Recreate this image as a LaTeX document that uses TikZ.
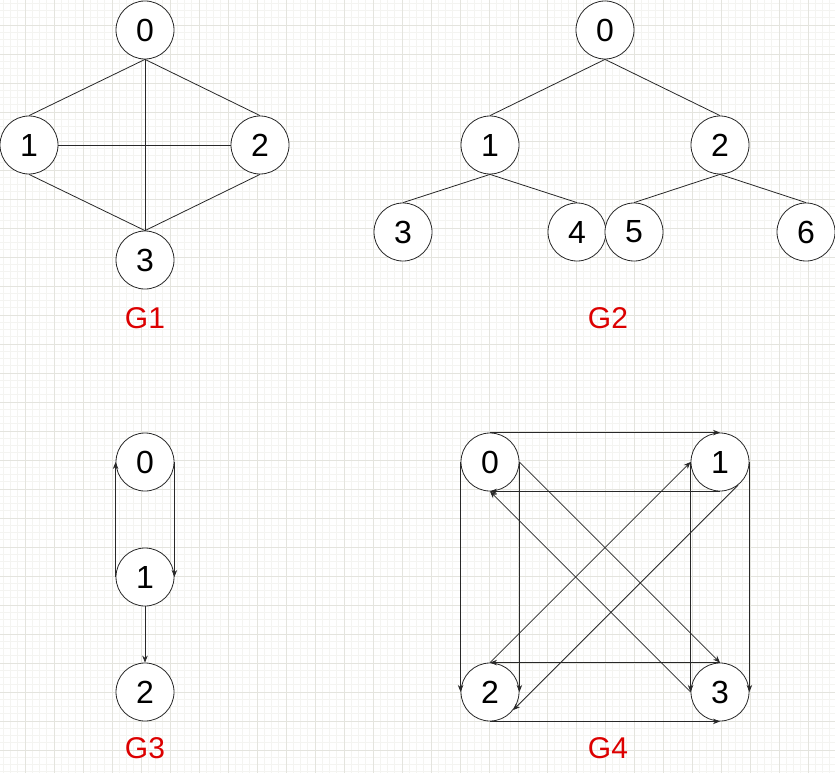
\documentclass[tikz,border=0pt]{standalone}
\usepackage{fontspec}
\setmainfont{Liberation Sans}
\usetikzlibrary{arrows.meta}
\definecolor{gminor}{RGB}{244,244,241}
\definecolor{gmajor}{RGB}{228,228,222}
\definecolor{lbl}{RGB}{220,0,0}
\definecolor{edge}{RGB}{40,40,40}
\begin{document}
\begin{tikzpicture}[x=1pt,y=-1pt,
  vtx/.style={circle,draw=edge,line width=0.8pt,fill=white,minimum size=58pt,inner sep=0pt,font=\fontsize{32}{34}\selectfont},
  glabel/.style={text=lbl,font=\fontsize{30}{32}\selectfont},
  edg/.style={draw=edge,line width=0.8pt},
  arr/.style={edg,-{Stealth[length=7pt,width=5.5pt]}}]
\useasboundingbox (0,0) rectangle (835,773);
\fill[white] (0,0) rectangle (835,773);
% grid
\foreach \i in {0,...,115} {
  \draw[gminor,line width=0.6pt] ({3.25+7.25*\i},0) -- ({3.25+7.25*\i},773);
  \draw[gminor,line width=0.6pt] (0,{3.25+7.25*\i}) -- (835,{3.25+7.25*\i});
}
\foreach \j in {-1,...,29} {
  \draw[gmajor,line width=0.7pt] ({25+29*\j},0) -- ({25+29*\j},773);
  \draw[gmajor,line width=0.7pt] (0,{25+29*\j}) -- (835,{25+29*\j});
}
% G1
\node[vtx] (a0) at (145,30) {0};
\node[vtx] (a1) at (29,145) {1};
\node[vtx] (a2) at (260,145) {2};
\node[vtx] (a3) at (145,260) {3};
\draw[edg] (a0.south) -- (a1.north);
\draw[edg] (a0.south) -- (a2.north);
\draw[edg] (a0.south) -- (a3.north);
\draw[edg] (a1.east) -- (a2.west);
\draw[edg] (a1.south) -- (a3.north);
\draw[edg] (a2.south) -- (a3.north);
\node[glabel] (g1) at (145,318) {G1};
% G2
\node[vtx] (b0) at (605,30) {0};
\node[vtx] (b1) at (490,145) {1};
\node[vtx] (b2) at (720,145) {2};
\node[vtx] (b3) at (403,232) {3};
\node[vtx] (b4) at (577,232) {4};
\node[vtx] (b5) at (634,232) {5};
\node[vtx] (b6) at (806,232) {6};
\draw[edg] (b0.south) -- (b1.north);
\draw[edg] (b0.south) -- (b2.north);
\draw[edg] (b1.south) -- (b3.north);
\draw[edg] (b1.south) -- (b4.north);
\draw[edg] (b2.south) -- (b5.north);
\draw[edg] (b2.south) -- (b6.north);
\node[glabel] (g2) at (608,318) {G2};
% G3
\node[vtx] (c0) at (145,462) {0};
\node[vtx] (c1) at (145,577) {1};
\node[vtx] (c2) at (145,692) {2};
\draw[arr] (c1.west) -- (c0.west);
\draw[arr] (c0.east) -- (c1.east);
\draw[arr] (c1.south) -- (c2.north);
\node[glabel] (g3) at (145,748) {G3};
% G4
\node[vtx] (d0) at (490,462) {0};
\node[vtx] (d1) at (720,462) {1};
\node[vtx] (d2) at (490,692) {2};
\node[vtx] (d3) at (720,692) {3};
\draw[arr] (d0.north) -- (d1.north);
\draw[arr] (d1.south) -- (d0.south);
\draw[arr] (d0.west) -- (d2.west);
\draw[arr] (d0.east) -- (d2.east);
\draw[arr] (d1.west) -- (d3.west);
\draw[arr] (d1.east) -- (d3.east);
\draw[arr] (d3.north) -- (d2.north);
\draw[arr] (d2.south) -- (d3.south);
\draw[arr] (d0.east) -- (d3.north);
\draw[arr] (d3.west) -- (d0.south);
\draw[arr] (d2.north) -- (d1.west);
\draw[arr] (d1.-52) -- (d2.-38);
\node[glabel] (g4) at (608,748) {G4};
\end{tikzpicture}
\end{document}
